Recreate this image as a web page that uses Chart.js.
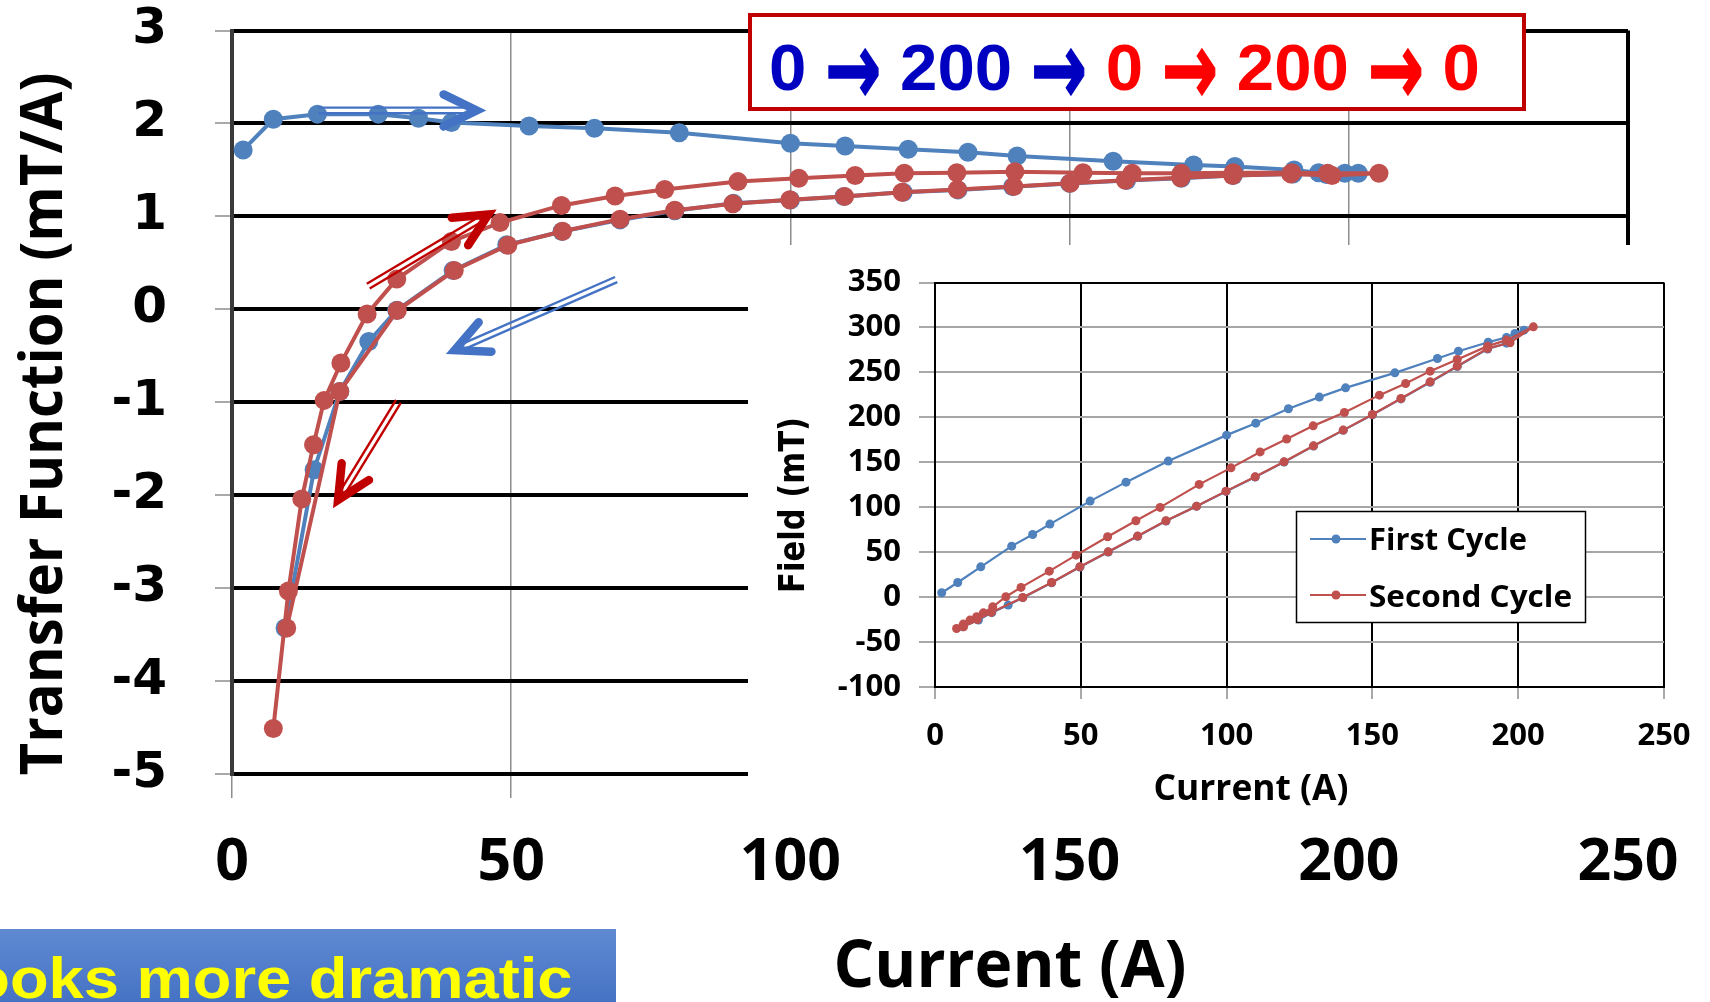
<!DOCTYPE html>
<html>
<head>
<meta charset="utf-8">
<title>Transfer function vs current</title>
<script src="https://cdn.jsdelivr.net/npm/chart.js@4.4.1/dist/chart.umd.min.js"></script>
<style>
  html, body { margin: 0; padding: 0; background: #fff; }
  body { width: 1710px; height: 1002px; position: relative; overflow: hidden; }
  #main { position: absolute; left: 0; top: 0; }
  #insetWrap { position: absolute; left: 748px; top: 245px; width: 962px; height: 570px; background: #fff; }
  #sequence { position: absolute; left: 748px; top: 13px; width: 778px; height: 98px; box-sizing: border-box;
              border: 4.5px solid #C00000; background: #fff; }
  #seqText { position: absolute; left: 16.5px; top: 14px; white-space: nowrap; line-height: 64px;
             font: bold 64px 'Liberation Sans', Arial, sans-serif; transform-origin: left center; }
  #seqText .arr { font-family: 'DejaVu Sans', sans-serif; display: inline-block; line-height: 64px;
                  transform: scaleY(1.6); transform-origin: 50% 47%; -webkit-text-stroke: 1px currentColor; }
  .b { color: #0000C0; }
  .r { color: #FF0000; }
  #note { position: absolute; left: 0; top: 929px; width: 616px; height: 73px; overflow: hidden;
          background: linear-gradient(#5f8ad2, #4672c4); }
  #noteText { position: absolute; right: 43px; top: 16px; white-space: nowrap; line-height: 57px;
              font: bold 57px 'Liberation Sans', Arial, sans-serif; color: #FFFF00;
              transform: scaleX(1.11); transform-origin: right center; }
</style>
</head>
<body>
<canvas id="main" width="1710" height="1002"></canvas>
<div id="insetWrap"><canvas id="inset" width="962" height="570"></canvas></div>
<div id="sequence"><div id="seqText"><span class="b">0 <span class="arr">→</span> 200 <span class="arr">→</span> </span><span class="r">0 <span class="arr">→</span> 200 <span class="arr">→</span> 0</span></div></div>
<div id="note"><div id="noteText">Looks more dramatic</div></div>

<script>
// ---- Transfer function (mT/A) vs current (A) ----
const firstCycleCurrent = [2.0, 7.4, 15.3, 26.2, 33.4, 39.3, 53.2, 64.9, 80.1, 100, 109.8, 121.1, 131.8, 140.6, 157.8, 172.2, 179.6, 190.2, 194.6, 199.3, 201.7,
  196.0, 190.0, 179.3, 170.0, 160.2, 150.0, 139.8, 130.0, 120.2, 109.6, 100.0, 89.8, 79.3, 69.5, 59.1, 49.2, 39.6, 29.5, 24.5, 19.3, 14.7, 9.5];
const firstCycleTF = [1.715, 2.045, 2.10, 2.10, 2.056, 2.01, 1.973, 1.948, 1.90, 1.787, 1.758, 1.722, 1.69, 1.65, 1.594, 1.554, 1.536, 1.50, 1.47, 1.465, 1.465,
  1.45, 1.455, 1.44, 1.41, 1.385, 1.355, 1.32, 1.285, 1.26, 1.213, 1.177, 1.14, 1.06, 0.962, 0.837, 0.694, 0.417, -0.01, -0.346, -0.884, -1.726, -3.43];

const secondCycleCurrent = [7.4, 10.1, 12.5, 14.6, 16.5, 19.5, 24.2, 29.5, 39.3, 48.0, 59.0, 68.6, 77.5, 90.6, 101.5, 111.6, 120.4, 129.8, 140.2, 152.4, 161.2, 170.0, 179.3, 189.8, 196.2, 205.4,
  197.0, 189.6, 179.2, 169.9, 160.0, 150.1, 140.0, 129.9, 120.0, 109.7, 99.9, 89.7, 79.3, 69.5, 59.2, 49.4, 39.8, 29.6, 19.3, 9.8];
const secondCycleTF = [-4.51, -3.03, -2.04, -1.457, -0.98, -0.578, -0.05, 0.325, 0.73, 0.933, 1.118, 1.22, 1.29, 1.374, 1.41, 1.44, 1.464, 1.47, 1.48, 1.47, 1.465, 1.465, 1.47, 1.47, 1.465, 1.465,
  1.44, 1.457, 1.44, 1.415, 1.388, 1.357, 1.322, 1.29, 1.26, 1.215, 1.178, 1.135, 1.065, 0.97, 0.84, 0.69, 0.417, -0.013, -0.884, -3.43];

// ---- Field (mT) vs current (A), inset ----
const firstFieldCurrent = [2.3, 7.8, 15.7, 26.3, 33.5, 39.4, 53.2, 65.5, 80.0, 100.0, 110.0, 121.2, 131.8, 140.8, 157.7, 172.3, 179.5, 189.7, 196.0, 198.9, 202.0,
  196.0, 189.5, 179.1, 169.8, 159.8, 150.0, 140.0, 129.8, 119.7, 109.8, 99.8, 89.7, 79.2, 69.5, 59.4, 49.7, 40.0, 30.1, 25.1, 19.5, 14.9, 9.5];
const firstField = [4.8, 16.3, 33.7, 56.7, 69.7, 81.2, 106.8, 127.9, 151.3, 180.2, 193.5, 209.5, 222.5, 232.8, 249.5, 265.5, 273.6, 283.6, 288.9, 293.3, 297.0,
  282.5, 276.0, 256.5, 239.0, 220.5, 202.8, 185.5, 168.0, 150.2, 133.5, 117.6, 101.0, 84.6, 67.6, 50.2, 33.5, 16.0, -0.6, -8.9, -17.3, -25.6, -33.0];

const secondFieldCurrent = [7.4, 9.7, 12.0, 14.3, 16.6, 19.8, 24.3, 29.5, 39.2, 48.4, 59.2, 68.9, 77.2, 90.6, 101.5, 111.5, 120.6, 129.7, 140.4, 152.4, 161.4, 169.8, 179.1, 189.5, 196.0, 205.2,
  197.2, 189.5, 179.1, 169.8, 159.8, 150.0, 140.0, 129.8, 119.7, 109.8, 99.8, 89.7, 79.2, 69.5, 59.4, 49.7, 40.0, 30.1, 19.3, 14.5, 9.8];
const secondField = [-34.9, -30.0, -25.6, -21.9, -17.5, -10.8, 0.4, 10.8, 28.9, 46.7, 67.1, 84.9, 99.8, 125.4, 143.8, 161.5, 175.9, 190.5, 205.4, 224.7, 237.7, 251.4, 264.4, 279.2, 285.9, 300.7,
  283.0, 276.6, 257.0, 239.5, 221.0, 203.2, 185.8, 168.3, 150.5, 133.8, 117.9, 101.2, 84.9, 67.9, 50.4, 33.7, 16.3, -0.4, -17.0, -25.0, -33.0];

const seriesNames = ['First Cycle', 'Second Cycle'];

// Axis limits and tick steps
const tfRange = [-5, 3], tfStep = 1;
const currentRange = [0, 250], currentStep = 50;
const fieldRange = [-100, 350], fieldStep = 50;

// Direction-of-sweep arrows, given in data units [current, transfer function]
const sweepArrows = [
  { from: [15.5, 2.14], to: [43.8, 2.14], color: '#4472C4' },
  { from: [68.8, 0.32], to: [39.9, -0.44], color: '#4472C4' },
  { from: [24.4, 0.25], to: [45.9, 1.02], color: '#C00000' },
  { from: [29.8, -0.99], to: [19.0, -2.05], color: '#C00000' }
];

const BLUE = '#4f81bd';
const RED = '#c0504d';

function zip(xs, ys) { return xs.map((x, i) => ({ x: x, y: ys[i] })); }

// Draws a string centred on (x, y) (baseline at y), squeezed to a given width.
function fittedText(ctx, text, x, y, width, font, rotate) {
  ctx.save();
  ctx.font = font;
  const w = ctx.measureText(text).width;
  ctx.translate(x, y);
  if (rotate) ctx.rotate(rotate);
  ctx.scale(width / w, 1);
  ctx.fillStyle = '#000';
  ctx.textAlign = 'center';
  ctx.textBaseline = 'alphabetic';
  ctx.fillText(text, 0, 0);
  ctx.restore();
}

// Keep tick-label overhang from pushing the plot area around
function noOverhang(s) {
  s.paddingTop = 0; s.paddingBottom = 0; s.paddingLeft = 0; s.paddingRight = 0;
}

const mainDecor = {
  id: 'mainDecor',
  afterDatasetsDraw(chart) {
    const ctx = chart.ctx, xs = chart.scales.x, ys = chart.scales.y;
    sweepArrows.forEach(a => {
      const x0 = xs.getPixelForValue(a.from[0]), y0 = ys.getPixelForValue(a.from[1]);
      const x1 = xs.getPixelForValue(a.to[0]), y1 = ys.getPixelForValue(a.to[1]);
      const len = Math.hypot(x1 - x0, y1 - y0);
      const ux = (x1 - x0) / len, uy = (y1 - y0) / len;
      const nx = -uy, ny = ux;
      ctx.save();
      ctx.strokeStyle = a.color;
      ctx.lineWidth = 2.4;
      [-2.8, 2.8].forEach(o => {
        ctx.beginPath();
        ctx.moveTo(x0 + nx * o, y0 + ny * o);
        ctx.lineTo(x1 - ux * 8 + nx * o, y1 - uy * 8 + ny * o);
        ctx.stroke();
      });
      ctx.lineWidth = 8.5;
      ctx.lineCap = 'round';
      ctx.lineJoin = 'miter';
      ctx.beginPath();
      ctx.moveTo(x1 - ux * 33 + nx * 16, y1 - uy * 33 + ny * 16);
      ctx.lineTo(x1, y1);
      ctx.lineTo(x1 - ux * 33 - nx * 16, y1 - uy * 33 - ny * 16);
      ctx.stroke();
      ctx.restore();
    });
  },
  afterDraw(chart) {
    const ctx = chart.ctx;
    fittedText(ctx, 'Transfer Function (mT/A)', 62, 424, 703, "bold 59px 'Open Sans'", -Math.PI / 2);
    fittedText(ctx, 'Current (A)', 1010, 987, 353, "bold 67px 'Open Sans'");
  }
};

const insetDecor = {
  id: 'insetDecor',
  afterDraw(chart) {
    const ctx = chart.ctx;
    fittedText(ctx, 'Current (A)', 503, 555, 195, "bold 35px 'Open Sans'");
    fittedText(ctx, 'Field (mT)', 56, 260, 176, "bold 35px 'DejaVu Sans'", -Math.PI / 2);
    // legend box
    ctx.save();
    ctx.fillStyle = '#fff';
    ctx.fillRect(548.5, 266.5, 289, 111);
    ctx.strokeStyle = '#000';
    ctx.lineWidth = 1.5;
    ctx.strokeRect(548.5, 266.5, 289, 111);
    const rows = [{ y: 294, base: 305, w: 158 }, { y: 350, base: 361.5, w: 203 }];
    chart.data.datasets.forEach((ds, i) => {
      const r = rows[i];
      ctx.strokeStyle = ds.borderColor;
      ctx.lineWidth = 2.2;
      ctx.beginPath();
      ctx.moveTo(562, r.y);
      ctx.lineTo(618, r.y);
      ctx.stroke();
      ctx.fillStyle = ds.backgroundColor;
      ctx.beginPath();
      ctx.arc(588, r.y, 4.5, 0, Math.PI * 2);
      ctx.fill();
      fittedText(ctx, ds.label, 621 + r.w / 2, r.base, r.w, "bold 31px 'Open Sans'");
    });
    ctx.restore();
  }
};

function build() {
  // Main chart
  new Chart(document.getElementById('main'), {
    type: 'scatter',
    data: {
      datasets: [
        { label: seriesNames[0], data: zip(firstCycleCurrent, firstCycleTF), showLine: true, borderColor: BLUE, backgroundColor: BLUE,
          borderWidth: 4, pointRadius: 9.5, pointBorderWidth: 0, order: 2 },
        { label: seriesNames[1], data: zip(secondCycleCurrent, secondCycleTF), showLine: true, borderColor: RED, backgroundColor: RED,
          borderWidth: 4, pointRadius: 9.5, pointBorderWidth: 0, order: 1 }
      ]
    },
    options: {
      responsive: false, animation: false, devicePixelRatio: 1, events: [],
      layout: { padding: { top: 30.5, right: 82, left: 0, bottom: 0 } },
      plugins: { legend: { display: false }, tooltip: { enabled: false } },
      scales: {
        x: {
          type: 'linear', min: currentRange[0], max: currentRange[1],
          ticks: { stepSize: currentStep, color: '#000', padding: 30, maxRotation: 0, autoSkip: false,
                   font: { family: 'Open Sans', weight: 'bold', size: 59 } },
          grid: {
            color: c => (c.tick && c.tick.value === currentRange[1]) ? '#000' : '#8c8c8c',
            lineWidth: c => (c.tick && c.tick.value === currentRange[1]) ? 4 : 1.5,
            tickLength: 24, tickColor: '#8c8c8c', tickWidth: 1.5
          },
          border: { display: true, color: '#000', width: 4 },
          afterFit: s => { s.height = 228; noOverhang(s); }
        },
        y: {
          type: 'linear', min: tfRange[0], max: tfRange[1],
          ticks: { stepSize: tfStep, color: '#000', padding: 48,
                   font: { family: 'DejaVu Sans', weight: 'bold', size: 50 } },
          grid: { color: '#000', lineWidth: 4, tickLength: 17, tickColor: '#8c8c8c', tickWidth: 1.5 },
          border: { display: true, color: '#3a3a3a', width: 4 },
          afterFit: s => { s.width = 232; noOverhang(s); }
        }
      }
    },
    plugins: [mainDecor]
  });

  // Inset chart
  new Chart(document.getElementById('inset'), {
    type: 'scatter',
    data: {
      datasets: [
        { label: seriesNames[0], data: zip(firstFieldCurrent, firstField), showLine: true, borderColor: BLUE, backgroundColor: BLUE,
          borderWidth: 2.2, pointRadius: 4.5, pointBorderWidth: 0, order: 2 },
        { label: seriesNames[1], data: zip(secondFieldCurrent, secondField), showLine: true, borderColor: RED, backgroundColor: RED,
          borderWidth: 2.2, pointRadius: 4.5, pointBorderWidth: 0, order: 1 }
      ]
    },
    options: {
      responsive: false, animation: false, devicePixelRatio: 1, events: [],
      layout: { padding: { top: 37.5, right: 46, left: 0, bottom: 0 } },
      plugins: { legend: { display: false }, tooltip: { enabled: false } },
      scales: {
        x: {
          type: 'linear', min: currentRange[0], max: currentRange[1],
          ticks: { stepSize: currentStep, color: '#000', padding: 19, maxRotation: 0, autoSkip: false,
                   font: { family: 'Open Sans', weight: 'bold', size: 31 } },
          grid: { color: '#000', lineWidth: 2, tickLength: 12, tickColor: '#8c8c8c', tickWidth: 1.5 },
          border: { display: true, color: '#000', width: 2 },
          afterFit: s => { s.height = 128; noOverhang(s); }
        },
        y: {
          type: 'linear', min: fieldRange[0], max: fieldRange[1],
          ticks: { stepSize: fieldStep, color: '#000', padding: 18,
                   font: { family: 'Open Sans', weight: 'bold', size: 31 } },
          grid: {
            color: c => (c.tick && (c.tick.value === fieldRange[0] || c.tick.value === fieldRange[1])) ? '#000' : '#a6a6a6',
            lineWidth: 2, tickLength: 16, tickColor: '#8c8c8c', tickWidth: 1.5
          },
          border: { display: true, color: '#000', width: 2 },
          afterFit: s => { s.width = 187; noOverhang(s); }
        }
      }
    },
    plugins: [insetDecor]
  });

  // Stretch the sweep sequence so it spans its box
  const seq = document.getElementById('seqText');
  const w = seq.getBoundingClientRect().width;
  seq.style.transform = 'scaleX(' + (711 / w) + ')';
}

if (document.fonts && document.fonts.ready) {
  document.fonts.ready.then(build);
} else {
  build();
}
</script>
</body>
</html>
